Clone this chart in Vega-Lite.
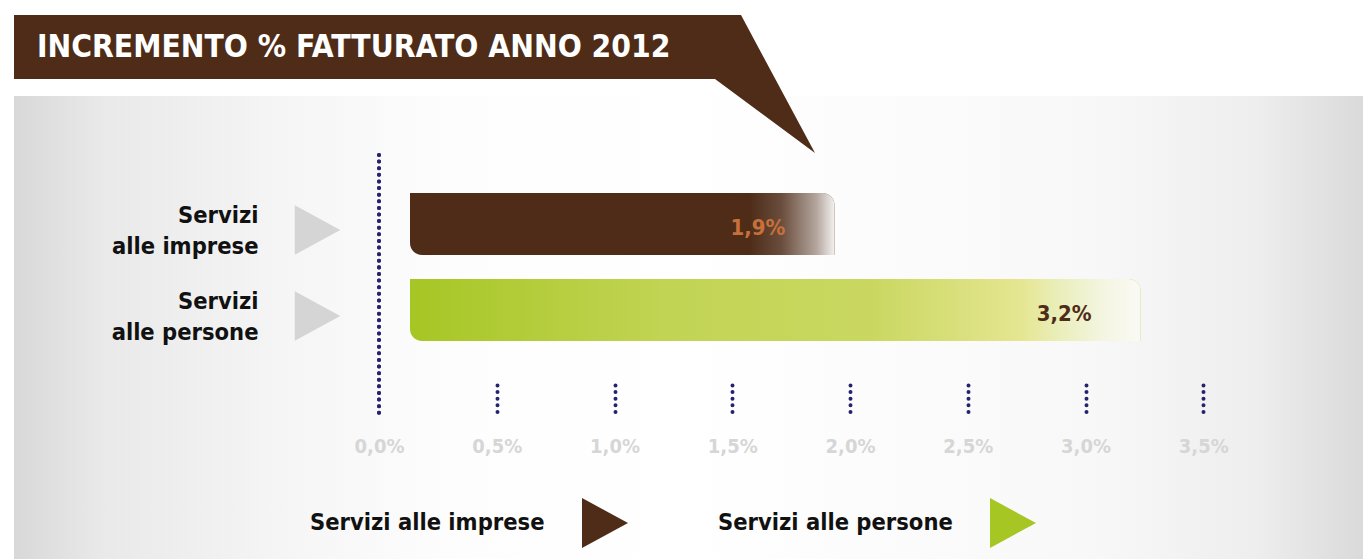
{
  "$schema": "https://vega.github.io/schema/vega-lite/v6.json",
  "autosize": "pad",
  "background": "white",
  "padding": {"left": 14, "top": 15, "right": 0, "bottom": 0},
  "bounds": "flush",
  "spacing": 17,
  "config": {"view": {"stroke": null}},
  "vconcat": [
    {
      "width": 726,
      "height": 64,
      "view": {"fill": "#4e2c18", "stroke": null},
      "data": {"values": [{"title": "INCREMENTO % FATTURATO ANNO 2012"}]},
      "mark": {"type": "text", "align": "left", "baseline": "middle", "dx": -340, "dy": 1, "font": "DejaVu Sans Condensed", "fontWeight": "bold", "fontSize": 31.5, "color": "#ffffff"},
      "encoding": {"text": {"field": "title", "type": "nominal"}}
    },
    {
      "width": 1349,
      "height": 463,
      "view": {"stroke": null},
      "data": {"values": [
        {"cat": "Servizi alle imprese", "value": 1.9},
        {"cat": "Servizi alle persone", "value": 3.2}
      ]},
      "layer": [
        {
          "data": {"values": [{"part": "panel"}]},
          "mark": {
            "type": "rect",
            "fill": {
              "gradient": "linear", "x1": 0, "y1": 0, "x2": 1, "y2": 0,
              "stops": [
                {"offset": 0, "color": "#d8d8d8"},
                {"offset": 0.065, "color": "#e9e9e9"},
                {"offset": 0.21, "color": "#f6f6f6"},
                {"offset": 0.32, "color": "#fdfdfd"},
                {"offset": 0.5, "color": "#ffffff"},
                {"offset": 0.8, "color": "#f8f8f8"},
                {"offset": 0.92, "color": "#eeeeee"},
                {"offset": 1, "color": "#dadada"}
              ]
            }
          },
          "encoding": {}
        },
        {
          "mark": {"type": "rule", "color": "#25236f", "strokeWidth": 4, "strokeCap": "round", "strokeDash": [0.01, 6.6], "yOffset": -69, "y2Offset": 106},
          "encoding": {
            "x": {"datum": 0, "type": "quantitative"},
            "y": {"datum": "Servizi alle imprese", "type": "nominal"},
            "y2": {"datum": "Servizi alle persone"}
          }
        },
        {
          "mark": {"type": "point", "filled": true, "opacity": 1, "color": "#d5d5d5", "shape": "M-0.92,-1L0.92,0L-0.92,1Z", "size": 2450, "yOffset": 6},
          "encoding": {
            "x": {"datum": -0.261, "type": "quantitative"},
            "y": {"field": "cat", "type": "nominal"}
          }
        },
        {
          "mark": {"type": "bar", "xOffset": 8, "x2Offset": 31, "cornerRadiusTopRight": 12, "cornerRadiusBottomLeft": 12},
          "encoding": {
            "x": {
              "field": "value", "type": "quantitative",
              "scale": {"domain": [-1.5499, 4.1783], "nice": false, "zero": false},
              "axis": {
                "orient": "bottom", "offset": -174, "values": [0, 0.5, 1, 1.5, 2, 2.5, 3, 3.5], "zindex": 2,
                "domain": false, "grid": false, "title": null,
                "tickSize": 31, "tickColor": "#25236f", "tickWidth": 4, "tickCap": "round", "tickDash": [0.01, 6.6],
                "tickOpacity": {"condition": {"test": "datum.value === 0", "value": 0}, "value": 1},
                "labelExpr": "replace(format(datum.value, '.1f'), '.', ',') + '%'",
                "labelFont": "DejaVu Sans Condensed", "labelFontWeight": "bold", "labelFontSize": 20,
                "labelColor": "#d6d6d6", "labelPadding": 20, "labelFlush": false, "labelOverlap": false
              }
            },
            "x2": {"datum": 0},
            "y": {
              "field": "cat", "type": "nominal", "sort": null,
              "scale": {"domain": ["Servizi alle imprese", "Servizi alle persone"], "range": [97, 245], "paddingInner": 0.279, "paddingOuter": 0},
              "axis": {
                "orient": "left", "offset": -254, "domain": false, "ticks": false, "title": null, "zindex": 2,
                "labelPadding": 10, "labelExpr": "['Servizi', replace(datum.label, 'Servizi ', '')]",
                "labelFont": "DejaVu Sans Condensed", "labelFontWeight": "bold", "labelFontSize": 23.5,
                "labelColor": "#111111", "labelLineHeight": 31, "labelAlign": "right", "labelBaseline": "middle",
                "labelOffset": -8, "labelLimit": 0
              }
            },
            "color": {
              "field": "cat", "type": "nominal",
              "scale": {"domain": ["Servizi alle imprese", "Servizi alle persone"], "range": ["#4e2c18", "#a6c624"]},
              "legend": {
                "orient": "none", "legendX": 296, "legendY": 483, "direction": "horizontal", "title": null,
                "symbolType": "M-0.92,-1L0.92,0L-0.92,1Z", "symbolSize": 2500, "symbolStrokeWidth": 0,
                "symbolOffset": 270, "labelOffset": -320, "columnPadding": 90, "padding": 0,
                "labelFont": "DejaVu Sans Condensed", "labelFontWeight": "bold", "labelFontSize": 23.5,
                "labelColor": "#111111", "labelLimit": 0
              }
            }
          }
        },
        {
          "transform": [{"filter": "datum.cat === 'Servizi alle imprese'"}],
          "mark": {
            "type": "bar", "xOffset": 8, "x2Offset": 31, "cornerRadiusTopRight": 12, "cornerRadiusBottomLeft": 12,
            "fill": {
              "gradient": "linear", "x1": 0, "y1": 0, "x2": 1, "y2": 0,
              "stops": [
                {"offset": 0, "color": "rgba(255,255,255,0)"},
                {"offset": 0.8, "color": "rgba(255,255,255,0)"},
                {"offset": 0.876, "color": "rgba(255,255,255,0.16)"},
                {"offset": 0.958, "color": "rgba(255,255,255,0.58)"},
                {"offset": 1, "color": "rgba(255,255,255,0.93)"}
              ]
            }
          },
          "encoding": {
            "x": {"field": "value", "type": "quantitative"},
            "x2": {"datum": 0},
            "y": {"field": "cat", "type": "nominal"}
          }
        },
        {
          "transform": [{"filter": "datum.cat === 'Servizi alle persone'"}],
          "mark": {
            "type": "bar", "xOffset": 8, "x2Offset": 31, "cornerRadiusTopRight": 12, "cornerRadiusBottomLeft": 12,
            "fill": {
              "gradient": "linear", "x1": 0, "y1": 0, "x2": 1, "y2": 0,
              "stops": [
                {"offset": 0, "color": "rgba(250,240,180,0)"},
                {"offset": 0.346, "color": "rgba(250,240,180,0.33)"},
                {"offset": 0.63, "color": "rgba(250,240,180,0.42)"},
                {"offset": 0.756, "color": "rgba(250,240,180,0.62)"},
                {"offset": 0.833, "color": "rgba(250,240,180,0.75)"},
                {"offset": 0.885, "color": "rgba(245,245,210,0.85)"},
                {"offset": 0.949, "color": "rgba(248,248,235,0.95)"},
                {"offset": 1, "color": "rgba(250,250,245,1)"}
              ]
            }
          },
          "encoding": {
            "x": {"field": "value", "type": "quantitative"},
            "x2": {"datum": 0},
            "y": {"field": "cat", "type": "nominal"}
          }
        },
        {
          "mark": {
            "type": "text", "align": "right", "baseline": "middle", "dx": -41, "dy": 4,
            "font": "DejaVu Sans Condensed", "fontWeight": "bold", "fontSize": 22,
            "text": {"expr": "replace(format(datum.value, '.1f'), '.', ',') + '%'"}
          },
          "encoding": {
            "x": {"field": "value", "type": "quantitative"},
            "y": {"field": "cat", "type": "nominal"},
            "color": {"condition": {"test": "datum.cat === 'Servizi alle imprese'", "value": "#c8703a"}, "value": "#4e2c18"}
          }
        },
        {
          "data": {"values": [{"part": "banner tail"}]},
          "mark": {"type": "point", "filled": true, "opacity": 1, "color": "#4e2c18", "size": 40000, "shape": "M0.115,-3.125L0.525,-3.125L1.265,-1.745L0.265,-2.485L0.115,-2.485Z"},
          "encoding": {}
        }
      ]
    }
  ]
}
